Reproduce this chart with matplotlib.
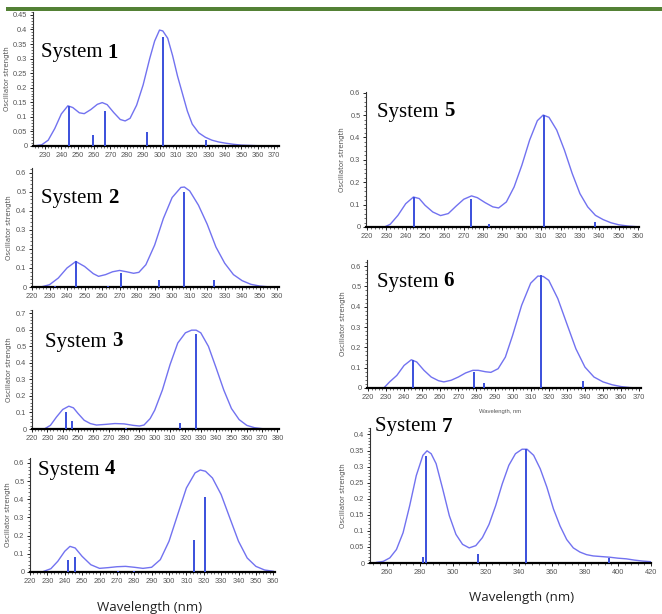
import matplotlib
matplotlib.use("Agg")
import matplotlib.pyplot as plt
from matplotlib.ticker import MultipleLocator, AutoMinorLocator

W, H = 662, 614

# ---- System 1
s1_wl  = [223, 228, 232, 236, 240, 244, 247, 251, 254, 258, 262, 265, 268, 272, 276, 279,
          282, 286, 290, 294, 297, 300, 302, 305, 308, 311, 314, 317, 320, 324, 328, 332,
          336, 340, 345, 350, 360, 373]
s1_env = [0.0, 0.004, 0.02, 0.06, 0.11, 0.138, 0.132, 0.114, 0.111, 0.125, 0.143, 0.149,
          0.142, 0.115, 0.091, 0.086, 0.095, 0.14, 0.21, 0.30, 0.36, 0.398, 0.395, 0.37,
          0.31, 0.24, 0.18, 0.12, 0.075, 0.045, 0.03, 0.02, 0.014, 0.01, 0.006, 0.003,
          0.001, 0.0]
s1_stk_wl = [244.5, 259.6, 266.9, 292.5, 302.1, 328.2]
s1_stk_f  = [0.138, 0.037, 0.12, 0.049, 0.373, 0.02]

# ---- System 2
s2_wl  = [225, 230, 235, 240, 245, 250, 255, 258, 262, 266, 270, 274, 278, 281, 285, 290,
          295, 300, 305, 307, 310, 315, 320, 325, 330, 335, 340, 345, 350, 355, 361]
s2_env = [0.0, 0.012, 0.047, 0.10, 0.134, 0.108, 0.07, 0.056, 0.065, 0.08, 0.087, 0.08,
          0.072, 0.077, 0.117, 0.22, 0.36, 0.47, 0.523, 0.525, 0.505, 0.43, 0.33, 0.21,
          0.125, 0.065, 0.033, 0.014, 0.005, 0.001, 0.0]
s2_stk_wl = [233.3, 245.1, 263.4, 271.0, 292.4, 306.9, 323.8]
s2_stk_f  = [0.006, 0.134, 0.006, 0.073, 0.038, 0.50, 0.038]

# ---- System 3
s3_wl  = [228, 232, 236, 240, 244, 247, 250, 254, 258, 262, 268, 274, 280, 286, 290, 293,
          297, 300, 305, 310, 315, 320, 324, 327, 330, 335, 340, 345, 350, 355, 360, 365,
          370, 381]
s3_env = [0.0, 0.022, 0.073, 0.118, 0.138, 0.128, 0.094, 0.053, 0.033, 0.024, 0.028, 0.033,
          0.031, 0.022, 0.018, 0.024, 0.063, 0.114, 0.236, 0.39, 0.52, 0.582, 0.598, 0.598,
          0.582, 0.50, 0.37, 0.236, 0.124, 0.057, 0.022, 0.008, 0.002, 0.0]
s3_stk_wl = [242.4, 246.3, 281.5, 316.7, 326.7]
s3_stk_f  = [0.10, 0.049, 0.008, 0.037, 0.576]

# ---- System 4
s4_wl  = [228, 232, 236, 240, 243, 246, 250, 255, 260, 265, 270, 275, 280, 285, 290, 295,
          300, 305, 310, 315, 318, 321, 325, 330, 335, 340, 345, 350, 355, 360]
s4_env = [0.004, 0.018, 0.059, 0.114, 0.141, 0.132, 0.086, 0.04, 0.02, 0.024, 0.029, 0.031,
          0.026, 0.02, 0.026, 0.068, 0.169, 0.316, 0.462, 0.545, 0.561, 0.554, 0.517, 0.426,
          0.297, 0.169, 0.077, 0.031, 0.011, 0.004]
s4_stk_wl = [241.9, 246.1, 270.9, 280.0, 314.3, 321.0]
s4_stk_f  = [0.068, 0.081, 0.005, 0.005, 0.174, 0.41]

# ---- System 5
s5_wl  = [229, 232, 236, 240, 244, 247, 250, 254, 258, 262, 266, 270, 274, 277, 281, 285,
          288, 292, 296, 300, 304, 308, 311, 314, 318, 322, 326, 330, 334, 338, 342, 346,
          350, 355, 360]
s5_env = [0.0, 0.012, 0.052, 0.104, 0.134, 0.127, 0.097, 0.067, 0.051, 0.06, 0.093, 0.124,
          0.139, 0.131, 0.109, 0.09, 0.085, 0.112, 0.179, 0.276, 0.388, 0.475, 0.50, 0.49,
          0.433, 0.343, 0.239, 0.149, 0.09, 0.052, 0.033, 0.019, 0.01, 0.004, 0.001]
s5_stk_wl = [244.5, 273.8, 283.1, 311.2, 338.0]
s5_stk_f  = [0.134, 0.127, 0.012, 0.50, 0.021]

# ---- System 6
s6_wl  = [229, 232, 236, 240, 244, 247, 251, 255, 259, 262, 266, 270, 274, 278, 281, 285,
          288, 292, 296, 300, 305, 310, 314, 317, 320, 325, 330, 335, 340, 345, 350, 355,
          360, 365, 370]
s6_env = [0.002, 0.03, 0.062, 0.111, 0.139, 0.128, 0.087, 0.054, 0.036, 0.03, 0.038, 0.054,
          0.074, 0.087, 0.087, 0.08, 0.077, 0.095, 0.152, 0.259, 0.407, 0.516, 0.551, 0.549,
          0.53, 0.44, 0.316, 0.193, 0.103, 0.054, 0.03, 0.016, 0.007, 0.002, 0.0]
s6_stk_wl = [244.9, 278.7, 284.4, 315.6, 339.0]
s6_stk_f  = [0.136, 0.077, 0.023, 0.554, 0.033]

# ---- System 7
s7_wl  = [254, 258, 262, 266, 270, 274, 278, 282, 284.5, 287, 290, 294, 298, 302, 306, 310,
          314, 318, 322, 326, 330, 334, 338, 342, 345, 349, 353, 357, 361, 365, 369, 373,
          377, 381, 385, 390, 395, 400, 405, 410, 415, 420]
s7_env = [0.002, 0.005, 0.016, 0.042, 0.094, 0.178, 0.272, 0.335, 0.349, 0.34, 0.309, 0.23,
          0.147, 0.089, 0.058, 0.047, 0.054, 0.079, 0.12, 0.178, 0.246, 0.304, 0.34, 0.354,
          0.354, 0.335, 0.293, 0.236, 0.168, 0.115, 0.073, 0.047, 0.034, 0.026, 0.022, 0.02,
          0.018, 0.015, 0.013, 0.009, 0.006, 0.004]
s7_stk_wl = [282.3, 283.9, 315.5, 344.3, 394.6]
s7_stk_f  = [0.019, 0.332, 0.028, 0.356, 0.016]

# panel boxes in pixels: left, right, top, bottom; x limits; y top; y tick step; label pos; ylabel x
panels = [
    ("1", s1_wl, s1_env, s1_stk_wl, s1_stk_f, (33, 279, 12, 146), (222.7, 373), 0.46, 0.05, (41, 53), 10),
    ("2", s2_wl, s2_env, s2_stk_wl, s2_stk_f, (32, 279, 168, 287), (220, 361), 0.625, 0.1, (41, 199), 12),
    ("3", s3_wl, s3_env, s3_stk_wl, s3_stk_f, (32, 279, 310, 429), (220, 381), 0.72, 0.1, (45, 342), 12),
    ("4", s4_wl, s4_env, s4_stk_wl, s4_stk_f, (30, 275, 458, 572), (220, 361), 0.627, 0.1, (38, 470), 11),
    ("5", s5_wl, s5_env, s5_stk_wl, s5_stk_f, (366, 639, 92, 227), (219.5, 360.5), 0.603, 0.1, (377, 112), 345),
    ("6", s6_wl, s6_env, s6_stk_wl, s6_stk_f, (367, 641, 260, 388), (219.5, 371), 0.63, 0.1, (377, 282), 346),
    ("7", s7_wl, s7_env, s7_stk_wl, s7_stk_f, (370, 651, 428, 563), (250, 420), 0.42, 0.05, (375, 427), 346),
]

env_col = '#7272f0'
stk_col = '#3a4fdc'
tick_font = 'Liberation Sans'

fig = plt.figure(figsize=(W/100, H/100), dpi=100, facecolor='white')

# green header rule
fig.add_artist(plt.Rectangle((6/W, 1-11/H), (W-6)/W, 4/H, transform=fig.transFigure,
                             color='#538135', lw=0))

for num, wl, env, swl, sf, (l, r, t, b), xl, ytop, ystep, (tx, ty), ylx in panels:
    ax = fig.add_axes((l/W, 1-b/H, (r-l)/W, (b-t)/H))
    ax.plot(wl, env, color=env_col, lw=1.0, zorder=2)
    ax.vlines(swl, 0, sf, color=stk_col, lw=1.4, zorder=3)
    ax.set_xlim(*xl)
    ax.set_ylim(0, ytop)
    for s in ('top', 'right'):
        ax.spines[s].set_visible(False)
    ax.spines['bottom'].set_linewidth(1.6)
    ax.spines['left'].set_linewidth(0.8)
    ax.spines['left'].set_color('#333333')
    ax.xaxis.set_major_locator(MultipleLocator(20 if num == "7" else 10))
    ax.xaxis.set_minor_locator(AutoMinorLocator(5))
    ax.yaxis.set_major_locator(MultipleLocator(ystep))
    ax.yaxis.set_minor_locator(AutoMinorLocator(5))
    ax.tick_params(which='major', length=2.5, width=0.6, labelsize=5.3,
                   labelcolor='#555555', pad=1.5, labelfontfamily=tick_font)
    ax.tick_params(which='minor', length=1.5, width=0.4)
    ax.yaxis.set_major_formatter(plt.FuncFormatter(lambda v, p: f"{v:g}"))
    ax.set_ylabel('Oscillator strength', fontsize=5.0, color='#555555')
    ax.yaxis.set_label_coords((ylx - l)/(r - l), 0.5)
    ax.patch.set_alpha(0)

    t1 = fig.text(tx/W, 1-ty/H, "System ", family='Liberation Serif', fontsize=15,
                  ha='left', va='center')
    ax.annotate(num, xy=(1, 0), xycoords=t1, family='Liberation Serif', fontsize=15,
                fontweight='bold', ha='left', va='bottom')

fig.text(150/W, 1-608/H, "Wavelength (nm)", family='Open Sans', fontsize=9.5,
         ha='center', va='center', color='#222222')
fig.text(522/W, 1-598/H, "Wavelength (nm)", family='Open Sans', fontsize=9.5,
         ha='center', va='center', color='#222222')
fig.text(500/W, 1-411/H, "Wavelength, nm", family='Liberation Sans', fontsize=4.2,
         ha='center', va='center', color='#555555')

fig.savefig('out.png', dpi=100, facecolor='white')
